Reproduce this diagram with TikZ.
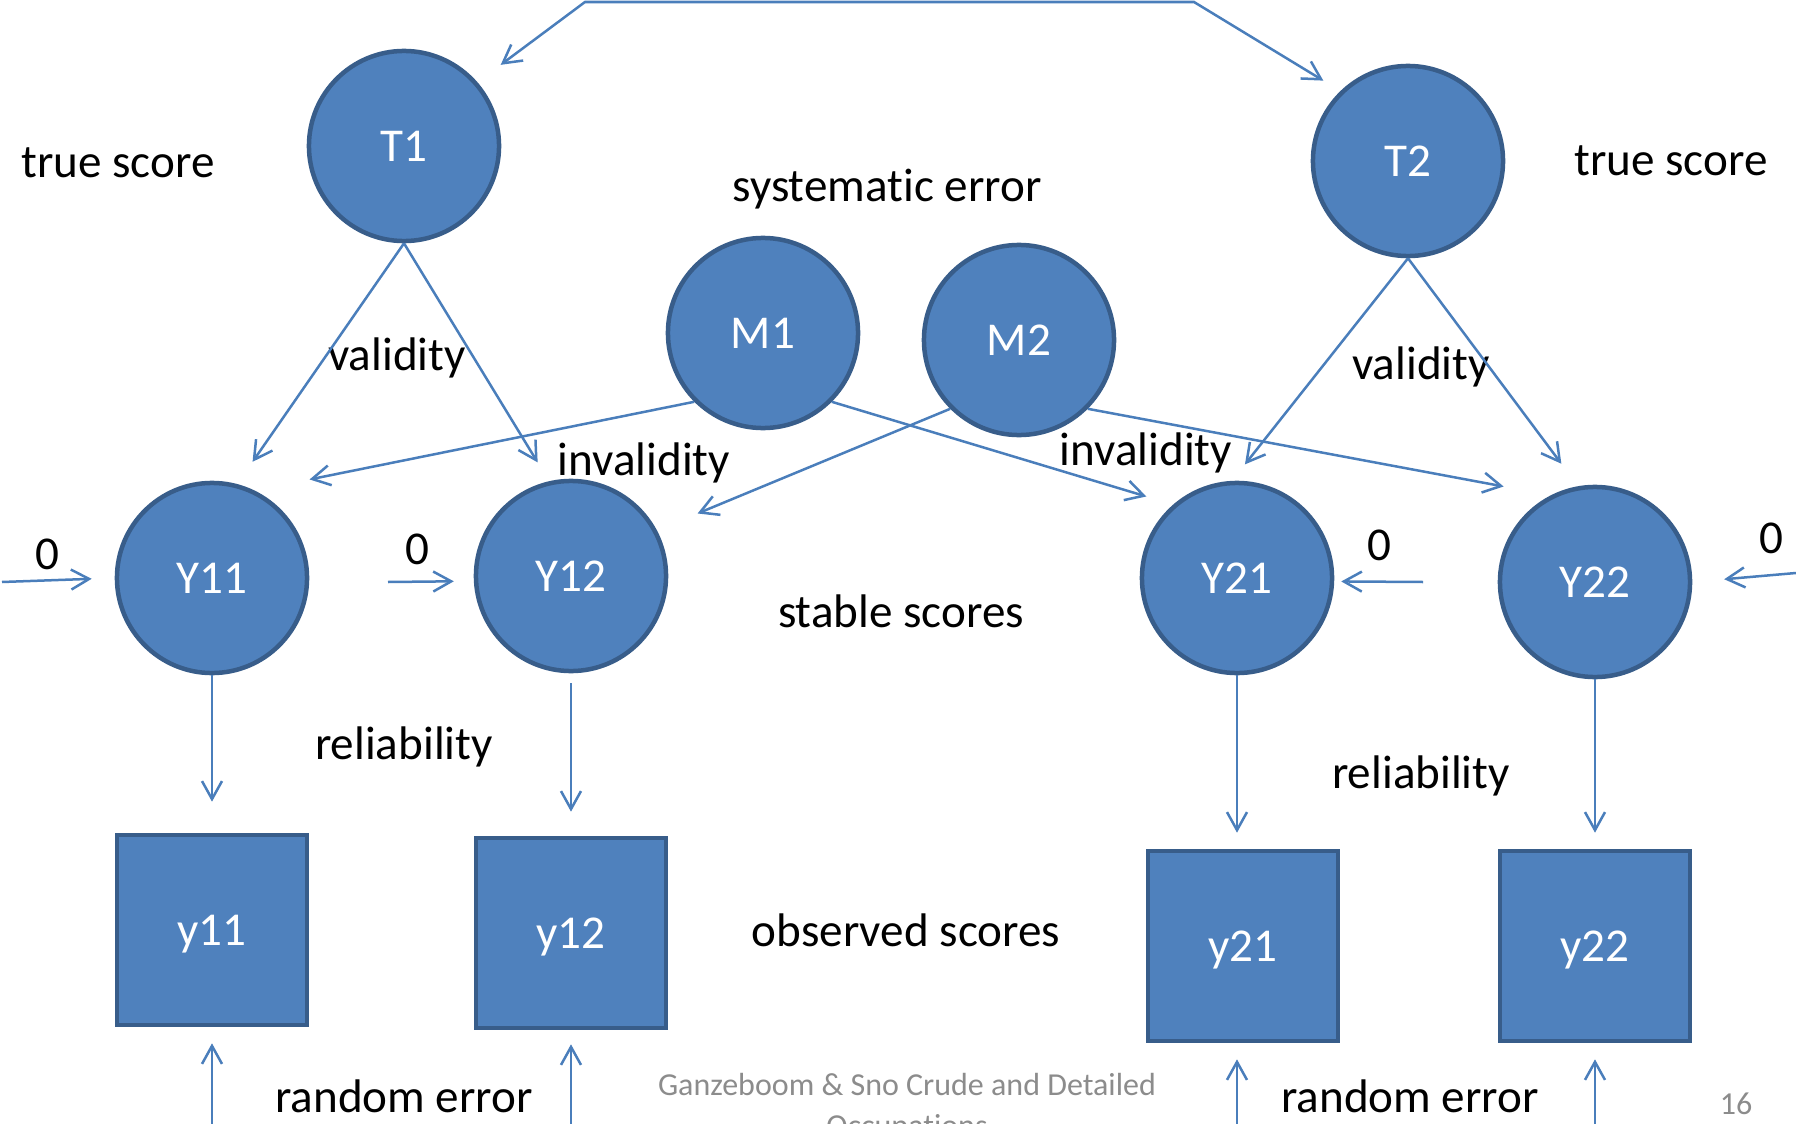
\documentclass[tikz,border=0pt]{standalone}
\usepackage{fontspec}
\setmainfont{Carlito}[Ligatures={NoCommon}]
\usepackage{tikz}
\usetikzlibrary{arrows.meta}
\newcommand{\defaultscoresize}{1.9cm}
\newcommand{\scoresize}{\defaultscoresize}
\newcommand{\diagramfont}{\fontsize{13.4pt}{16pt}\selectfont}
\newcommand{\slidefont}{\fontsize{9.1pt}{11pt}\selectfont}
\definecolor{scorefill}{HTML}{4F81BD}
\definecolor{scoreline}{HTML}{385D8A}
\definecolor{loadingline}{HTML}{4A7EBB}
\definecolor{slidegrey}{HTML}{8C8C8C}
\tikzstyle{score}=[draw=scoreline, fill=scorefill, line width=0.045cm, text=white, minimum size=\scoresize]
\tikzstyle{cscore}=[score, circle]
\tikzstyle{sscore}=[score, rectangle]
\tikzstyle{loading}=[draw=loadingline, line width=0.025cm,
                     >={Straight Barb[length=0.18cm, width=0.2cm]}, ->]
\tikzstyle{remark}=[anchor=base]
\tikzstyle{slidenote}=[anchor=base, text=slidegrey, font=\slidefont]
\tikzstyle{pathdiagram}=[x=0.01cm, y=-0.01cm,
                         % Default padding for labels.
                         every node/.style={inner sep=0, text depth=0pt, font=\diagramfont}]

\begin{document}
\begin{tikzpicture}[pathdiagram]
        \useasboundingbox (0, 0) rectangle (1796, 1124);
        \clip (0, 0) rectangle (1796, 1124);
        % latent scores
        \node[cscore] (T1) at (404, 146) {T1};
        \node[cscore] (T2) at (1408, 161) {T2};
        \node[cscore] (M1) at (763, 333) {M1};
        \node[cscore] (M2) at (1019, 340) {M2};
        \node[cscore] (Y11) at (212, 578) {Y11};
        \node[cscore] (Y12) at (571, 576) {Y12};
        \node[cscore] (Y21) at (1237, 578) {Y21};
        \node[cscore] (Y22) at (1595, 582) {Y22};
        % observed scores
        \node[sscore] (obs11) at (212, 930) {y11};
        \node[sscore] (obs12) at (571, 933) {y12};
        \node[sscore] (obs21) at (1243, 946) {y21};
        \node[sscore] (obs22) at (1595, 946) {y22};
        % texts
        \node[remark] (true1) at (118, 177) {true score};
        \node[remark] (true2) at (1671, 175) {true score};
        \node[remark] (syst) at (887, 201) {systematic error};
        \node[remark] (valid1) at (397, 370) {validity};
        \node[remark] (valid2) at (1421, 379) {validity};
        \node[remark] (invalid1) at (644, 475) {invalidity};
        \node[remark] (invalid2) at (1146, 465) {invalidity};
        \node[remark] (nil11) at (47, 569) {0};
        \node[remark] (nil12) at (417, 564) {0};
        \node[remark] (nil21) at (1379, 560) {0};
        \node[remark] (nil22) at (1771, 553) {0};
        \node[remark] (stable) at (901, 627) {stable scores};
        \node[remark] (reliab1) at (404, 759) {reliability};
        \node[remark] (reliab2) at (1421, 788) {reliability};
        \node[remark] (observed) at (906, 946) {observed scores};
        \node[remark] (random1) at (404, 1112) {random error};
        \node[remark] (random2) at (1410, 1112) {random error};
        \node[slidenote] (foot1) at (907, 1095) {Ganzeboom \& Sno Crude and Detailed};
        \node[slidenote] (foot2) at (907, 1136) {Occupations};
        \node[slidenote] (page) at (1736, 1114) {16};
        % free ends
        \coordinate (covleft) at (585, 2);
        \coordinate (covright) at (1194, 2);
        \coordinate (zero11) at (2, 582);
        \coordinate (zero12) at (388, 582);
        \coordinate (zero21) at (1423, 582);
        \coordinate (zero22) at (1796, 573);
        \coordinate (err11) at (212, 1124);
        \coordinate (err12) at (571, 1124);
        \coordinate (err21) at (1237, 1124);
        \coordinate (err22) at (1595, 1124);
        % paths
        \draw[loading, <->, shorten <=0.29cm, shorten >=0.2cm] (T1.41) -- (covleft) -- (covright) -- (T2.134);
        \draw[loading, shorten >=0.27cm] (T1.south) -- (Y11.75);
        \draw[loading, shorten >=0.22cm] (T1.south) -- (Y12.103);
        \draw[loading, shorten >=0.21cm] (T2.south) -- (Y21.93);
        \draw[loading, shorten >=0.28cm] (T2.south) -- (Y22.100);
        \draw[loading, shorten >=0.56cm] (M1.225) -- (Y11.64);
        \draw[loading, shorten >=0.28cm] (M1.315) -- (Y21.131);
        \draw[loading, shorten >=0.44cm] (M2.225) -- (Y12.28);
        \draw[loading, shorten >=0.48cm] (M2.315) -- (Y22.117);
        \draw[loading, shorten >=0.23cm] (zero11) -- (Y11.west);
        \draw[loading, shorten >=0.2cm] (zero12) -- (Y12.183);
        \draw[loading, shorten >=0.07cm] (zero21) -- (Y21.-2);
        \draw[loading, shorten >=0.32cm] (zero22) -- (Y22.east);
        \draw[loading, shorten >=0.31cm] (Y11) -- (obs11);
        \draw[loading, shorten <=0.1cm, shorten >=0.24cm] (Y12) -- (obs12);
        \draw[loading, shorten >=0.16cm] (Y21.south) -- (Y21.south |- obs21.north);
        \draw[loading, shorten >=0.16cm] (Y22) -- (obs22);
        \draw[loading, shorten >=0.16cm] (err11) -- (obs11);
        \draw[loading, shorten >=0.14cm] (err12) -- (obs12);
        \draw[loading, shorten >=0.16cm] (err21) -- (err21 |- obs21.south);
        \draw[loading, shorten >=0.16cm] (err22) -- (obs22);
    \end{tikzpicture}
\end{document}
